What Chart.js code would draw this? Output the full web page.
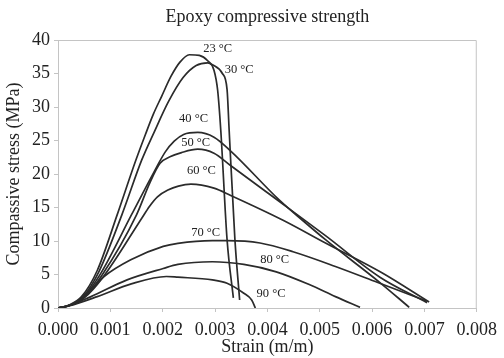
<!DOCTYPE html>
<html lang="en">
<head>
  <meta charset="UTF-8" />
  <title>Epoxy compressive strength</title>
  <style>
    body { margin: 0; background: #fff; }
    canvas { display: block; }
  </style>
</head>
<body>
  <canvas id="grafico" width="504" height="358"></canvas>

  <script src="https://cdn.jsdelivr.net/npm/chart.js"></script>
  <script>
    // Strain (m/m) and stress (MPa), one pair per temperature
    const temps = ['23 °C', '30 °C', '40 °C', '50 °C', '60 °C', '70 °C', '80 °C', '90 °C'];

    const strain23 = [0, 0.0002, 0.00045, 0.00075, 0.00113, 0.00148, 0.00167, 0.00182, 0.00198, 0.00216, 0.00233, 0.00251, 0.0027, 0.00286, 0.00298, 0.00305, 0.00311, 0.00323, 0.00335];
    const stress23 = [0, 0.4, 1.7, 5.6, 13.9, 21.9, 25.9, 28.9, 31.6, 34.6, 36.7, 37.8, 37.7, 36.9, 35.5, 32.5, 26.5, 10.2, 1.5];

    const strain30 = [0, 0.00022, 0.00048, 0.00078, 0.00122, 0.0016, 0.00184, 0.00211, 0.00239, 0.00264, 0.00286, 0.00295, 0.00314, 0.00323, 0.00327, 0.00338, 0.00347];
    const stress30 = [0, 0.4, 1.7, 5.4, 13.9, 22.1, 26.3, 30.8, 34.4, 36.2, 36.6, 36.3, 35.0, 32.6, 26.5, 10.2, 1.2];

    const strain40 = [0, 0.00022, 0.0005, 0.00082, 0.00141, 0.0018, 0.00205, 0.00222, 0.0024, 0.00267, 0.00298, 0.00329, 0.00423, 0.00467, 0.00511, 0.00615, 0.00671];
    const stress40 = [0, 0.4, 1.7, 5.2, 14.0, 19.8, 23.3, 24.9, 25.9, 26.2, 25.5, 23.5, 16.1, 13.1, 10.2, 3.8, 0.1];

    const strain50 = [0, 0.00022, 0.0005, 0.00084, 0.0015, 0.00175, 0.00195, 0.00215, 0.00236, 0.00267, 0.00298, 0.00329, 0.00423, 0.00511, 0.00615, 0.00705];
    const stress50 = [0, 0.4, 1.6, 4.9, 13.9, 18.6, 21.6, 22.6, 23.2, 23.7, 23.1, 21.3, 15.9, 10.8, 4.6, 0.8];

    const strain60 = [0, 0.00022, 0.0005, 0.00086, 0.0016, 0.00175, 0.0019, 0.0021, 0.0023, 0.00254, 0.00298, 0.0033, 0.0043, 0.00511, 0.00618, 0.00709];
    const stress60 = [0, 0.4, 1.5, 4.6, 13.4, 15.2, 16.6, 17.6, 18.2, 18.5, 17.9, 16.8, 13.1, 9.7, 5.3, 0.9];

    const strain70 = [0, 0.0002, 0.00045, 0.00088, 0.00139, 0.00201, 0.00229, 0.00295, 0.00323, 0.00386, 0.00449, 0.0053, 0.00611, 0.00705];
    const stress70 = [0, 0.3, 1.3, 4.7, 7.2, 9.2, 9.65, 10.05, 10.05, 9.7, 8.4, 6.2, 3.8, 1.0];

    const strain80 = [0, 0.0002, 0.00063, 0.00132, 0.00201, 0.00229, 0.00295, 0.00355, 0.00417, 0.0048, 0.0053, 0.00577];
    const stress80 = [0, 0.3, 1.7, 4.2, 5.9, 6.5, 6.9, 6.5, 5.4, 3.5, 1.7, 0.1];

    const strain90 = [0, 0.0002, 0.00075, 0.0014, 0.00207, 0.00229, 0.00295, 0.00323, 0.00355, 0.0037, 0.00377];
    const stress90 = [0, 0.3, 1.7, 3.6, 4.7, 4.6, 4.2, 3.7, 2.2, 1.2, 0];

    // where each temperature label sits (data units)
    const labelStrain = [0.00305, 0.00346, 0.00259, 0.00263, 0.00274, 0.00282, 0.00414, 0.00407];
    const labelStress = [38.7, 35.5, 28.3, 24.6, 20.5, 11.2, 7.2, 2.1];

    const xTicks = [0, 0.001, 0.002, 0.003, 0.004, 0.005, 0.006, 0.007, 0.008];
    const yTicks = [0, 5, 10, 15, 20, 25, 30, 35, 40];

    const allStrain = [strain23, strain30, strain40, strain50, strain60, strain70, strain80, strain90];
    const allStress = [stress23, stress30, stress40, stress50, stress60, stress70, stress80, stress90];

    const serif = 'Liberation Serif, Times New Roman, serif';
    const axisGray = '#c4c4c4';

    const datasets = temps.map((t, i) => ({
      label: t,
      data: allStrain[i].map((x, j) => ({ x: x, y: allStress[i][j] })),
      borderColor: '#2b2b2b',
      borderWidth: 1.7,
      pointRadius: 0,
      fill: false,
      cubicInterpolationMode: 'monotone'
    }));

    // light frame on top and right, then the temperature labels
    const moldura = {
      id: 'moldura',
      beforeDatasetsDraw(chart) {
        const { ctx, chartArea: a } = chart;
        ctx.save();
        ctx.strokeStyle = axisGray;
        ctx.lineWidth = 1;
        ctx.beginPath();
        ctx.moveTo(a.left, a.top + 0.5);
        ctx.lineTo(a.right - 0.5, a.top + 0.5);
        ctx.lineTo(a.right - 0.5, a.bottom);
        ctx.stroke();
        ctx.restore();
      },
      afterDatasetsDraw(chart) {
        const { ctx, scales } = chart;
        ctx.save();
        ctx.font = '12.5px ' + serif;
        ctx.fillStyle = '#222';
        ctx.textAlign = 'center';
        ctx.textBaseline = 'middle';
        temps.forEach((t, i) => {
          ctx.fillText(t, scales.x.getPixelForValue(labelStrain[i]), scales.y.getPixelForValue(labelStress[i]));
        });
        ctx.restore();
      }
    };

    new Chart(document.getElementById('grafico').getContext('2d'), {
      type: 'line',
      data: { datasets },
      options: {
        responsive: false,
        animation: false,
        layout: { padding: { right: 20 } },
        plugins: {
          legend: { display: false },
          tooltip: { enabled: false },
          title: {
            display: true,
            text: 'Epoxy compressive strength',
            color: '#222',
            font: { family: serif, size: 18, weight: 'normal' },
            fullSize: false,
            padding: { top: 6, bottom: 12.4 }
          }
        },
        scales: {
          x: {
            type: 'linear',
            min: 0,
            max: 0.008,
            afterBuildTicks: s => { s.ticks = xTicks.map(v => ({ value: v })); },
            afterFit: s => { s.height = 50; },
            ticks: {
              color: '#222',
              font: { family: serif, size: 18 },
              padding: 7,
              maxRotation: 0,
              callback: v => v.toFixed(3)
            },
            grid: { drawOnChartArea: false, drawTicks: true, tickLength: 4, color: axisGray },
            border: { display: true, color: axisGray },
            title: {
              display: true,
              text: 'Strain (m/m)',
              color: '#222',
              font: { family: serif, size: 18 },
              padding: { top: 0, bottom: 0 }
            }
          },
          y: {
            min: 0,
            max: 40,
            afterBuildTicks: s => { s.ticks = yTicks.map(v => ({ value: v })); },
            afterFit: s => { s.width = 58; },
            ticks: {
              color: '#222',
              font: { family: serif, size: 18 },
              padding: 4
            },
            grid: { drawOnChartArea: false, drawTicks: true, tickLength: 4, color: axisGray },
            border: { display: true, color: axisGray },
            title: {
              display: true,
              text: 'Compassive stress (MPa)',
              color: '#222',
              font: { family: serif, size: 18 },
              padding: { top: 3, bottom: 0 }
            }
          }
        }
      },
      plugins: [moldura]
    });
  </script>
</body>
</html>
